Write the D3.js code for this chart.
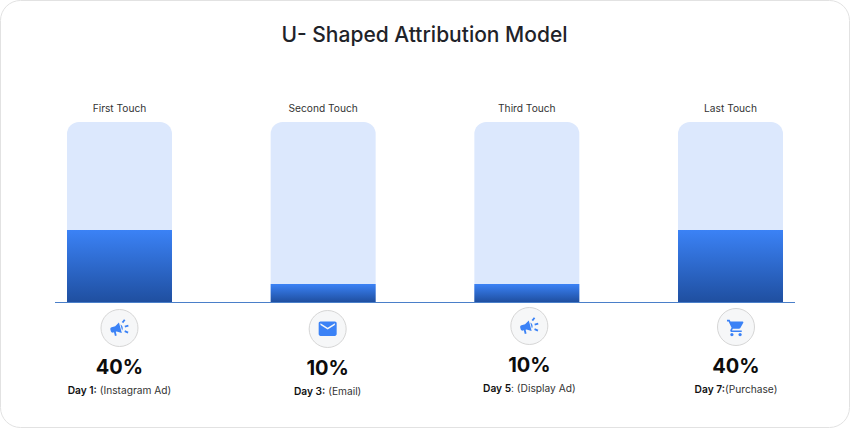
<!DOCTYPE html>
<html>
<head>
<meta charset="utf-8">
<script src="https://cdn.jsdelivr.net/npm/d3@7/dist/d3.min.js"></script>
<style>
  html, body { margin: 0; padding: 0; background: #fff; overflow: hidden; }
  svg { display: block; }
  text { font-family: Inter, "Noto Sans", sans-serif; }
</style>
</head>
<body>
<svg id="chart" width="850" height="428"></svg>
<script>
const chartTitle = "U- Shaped Attribution Model";
const touchpoints = ["First Touch", "Second Touch", "Third Touch", "Last Touch"];
const credit = [40, 10, 10, 40];
const days = ["Day 1:", "Day 3:", "Day 5", "Day 7:"];
const channels = [" (Instagram Ad)", " (Email)", ": (Display Ad)", "(Purchase)"];
const iconKinds = ["campaign", "mail", "campaign", "cart"];

const glyphs = {
  campaign: "M18 11v2h4v-2h-4zm-2 6.61c.96.71 2.21 1.65 3.2 2.39.4-.53.8-1.07 1.2-1.6-.99-.74-2.24-1.68-3.2-2.4-.4.54-.8 1.08-1.2 1.61zM20.4 5.6c-.4-.53-.8-1.07-1.2-1.6-.99.74-2.24 1.68-3.2 2.4.4.53.8 1.07 1.2 1.6.96-.72 2.21-1.65 3.2-2.4zM4 9c-1.1 0-2 .9-2 2v2c0 1.1.9 2 2 2h1v4h2v-4h1l5 3V6L8 9H4zm11.5 3c0-1.33-.58-2.53-1.5-3.35v6.69c.92-.81 1.5-2.01 1.5-3.34z",
  mail: "M20 4H4c-1.1 0-1.99.9-1.99 2L2 18c0 1.1.9 2 2 2h16c1.1 0 2-.9 2-2V6c0-1.1-.9-2-2-2zm0 4l-8 5-8-5V6l8 5 8-5v2z",
  cart: "M7 18c-1.1 0-1.99.9-1.99 2S5.9 22 7 22s2-.9 2-2-.9-2-2-2zM1 2v2h2l3.6 7.59-1.35 2.45c-.16.28-.25.61-.25.96 0 1.1.9 2 2 2h12v-2H7.42c-.14 0-.25-.11-.25-.25l.03-.12.9-1.63h7.45c.75 0 1.41-.41 1.75-1.03l3.58-6.49c.08-.14.12-.31.12-.48 0-.55-.45-1-1-1H5.21l-.94-2H1zm16 16c-1.1 0-1.99.9-1.99 2s.89 2 1.99 2 2-.9 2-2-.9-2-2-2z"
};
const glyphPlacement = {
  campaign: { scale: 0.92, angle: -15, dy: 0 },
  mail: { scale: 0.9, angle: 0, dy: -0.3 },
  cart: { scale: 0.82, angle: 0, dy: 1 }
};

const svg = d3.select("#chart");
const baseline = 302, plotTop = 122;

const x = d3.scaleBand().domain(touchpoints).range([67, 783]).paddingInner(0.4845);
const y = d3.scaleLinear().domain([0, 100]).range([baseline, plotTop]);

// Card behind the chart
svg.append("rect")
  .attr("x", 0.5).attr("y", 0.5).attr("width", 849).attr("height", 427)
  .attr("rx", 20).attr("fill", "#fff").attr("stroke", "#e2e2e2");

const fillGrad = svg.append("defs").append("linearGradient")
  .attr("id", "barFill").attr("x1", 0).attr("x2", 0).attr("y1", 0).attr("y2", 1);
fillGrad.append("stop").attr("offset", "0%").attr("stop-color", "#3b82f6");
fillGrad.append("stop").attr("offset", "100%").attr("stop-color", "#1f4fa0");

svg.append("text")
  .attr("x", 424.5).attr("y", 41.5)
  .attr("text-anchor", "middle")
  .attr("font-size", 21).attr("font-weight", 500).attr("fill", "#1f2329")
  .text(chartTitle);

// Track: full-height bar with rounded top corners
const trackPath = name => {
  const x0 = x(name), x1 = x0 + x.bandwidth(), r = 12;
  const p = d3.path();
  p.moveTo(x0, baseline);
  p.lineTo(x0, y(100) + r);
  p.arcTo(x0, y(100), x0 + r, y(100), r);
  p.lineTo(x1 - r, y(100));
  p.arcTo(x1, y(100), x1, y(100) + r, r);
  p.lineTo(x1, baseline);
  p.closePath();
  return p.toString();
};

svg.append("g").selectAll("path").data(touchpoints).join("path")
  .attr("d", trackPath).attr("fill", "#dce8fd");

svg.append("g").selectAll("rect").data(touchpoints).join("rect")
  .attr("x", d => x(d))
  .attr("y", (d, i) => y(credit[i]))
  .attr("width", x.bandwidth())
  .attr("height", (d, i) => baseline - y(credit[i]))
  .attr("fill", "url(#barFill)");

svg.append("line")
  .attr("x1", 55).attr("x2", 795).attr("y1", baseline + 0.5).attr("y2", baseline + 0.5)
  .attr("stroke", "#4a7fc9").attr("stroke-width", 1);

svg.append("g").selectAll("text").data(touchpoints).join("text")
  .attr("x", d => x(d) + x.bandwidth() / 2)
  .attr("y", 112)
  .attr("text-anchor", "middle")
  .attr("font-size", 10.2).attr("fill", "#333")
  .text(d => d);

// Captions under the axis drift a little from their bars
const captionShift = [0, 4.5, 2.5, 5.5];
const captionDrop = [0, 1, -2, -1];
const captions = svg.append("g").selectAll("g").data(touchpoints).join("g")
  .attr("transform", (d, i) =>
    `translate(${x(d) + x.bandwidth() / 2 + captionShift[i]},${captionDrop[i]})`);

captions.append("circle")
  .attr("cy", 328).attr("r", 18.5)
  .attr("fill", "#f6f7f8").attr("stroke", "#d6d6d6");

captions.append("path")
  .attr("d", (d, i) => glyphs[iconKinds[i]])
  .attr("fill", "#3b82f6")
  .attr("transform", (d, i) => {
    const g = glyphPlacement[iconKinds[i]];
    return `translate(0,${328 + g.dy}) rotate(${g.angle}) scale(${g.scale}) translate(-12,-12)`;
  });

captions.append("text")
  .attr("y", 373.5).attr("text-anchor", "middle")
  .attr("font-size", 20).attr("font-weight", 700).attr("fill", "#0c0c0c")
  .text((d, i) => `${credit[i]}%`);

const dayLine = captions.append("text")
  .attr("y", 394).attr("text-anchor", "middle")
  .attr("font-size", 10.2).attr("fill", "#333");
dayLine.append("tspan").attr("font-weight", 600).attr("fill", "#111").text((d, i) => days[i]);
dayLine.append("tspan").attr("xml:space", "preserve").text((d, i) => channels[i]);
</script>
</body>
</html>
